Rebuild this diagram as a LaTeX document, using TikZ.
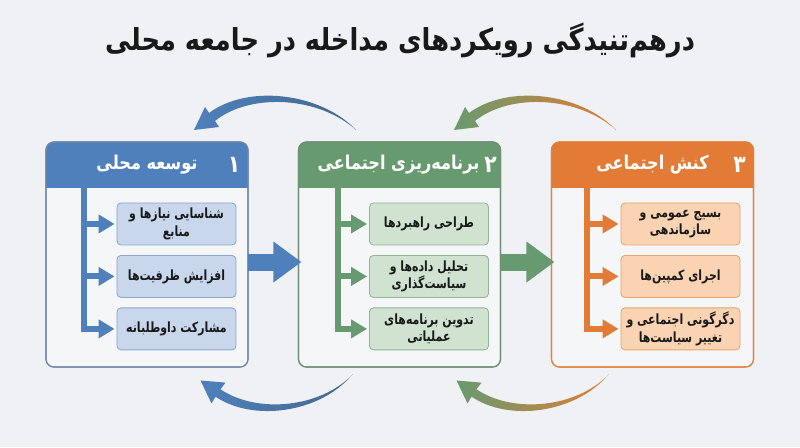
\documentclass[tikz,border=0pt]{standalone}
\usepackage{fontspec}
\usepackage{tikz}
\usetikzlibrary{
  arrows.meta,positioning,calc
}
\newfontfamily\fa[Script=Arabic,FakeStretch=0.85]{DejaVu Sans}
\newfontfamily\fan[Script=Arabic,FakeStretch=0.78]{DejaVu Sans}
\TeXXeTstate=1
\newcommand{\rtl}[1]{\beginR#1\endR}

\definecolor{bgc}{HTML}{EFF1F4}
\definecolor{panelF}{HTML}{F5F6F8}
\definecolor{blueM}{HTML}{4F80BC}
\definecolor{blueB}{HTML}{6F88AA}
\definecolor{blueL}{HTML}{C8D7EC}
\definecolor{blueE}{HTML}{8DA8CC}
\definecolor{blueD}{HTML}{43698C}
\definecolor{greenM}{HTML}{679B6F}
\definecolor{greenB}{HTML}{6E8E76}
\definecolor{greenL}{HTML}{CFE3D0}
\definecolor{greenE}{HTML}{93B398}
\definecolor{orangeM}{HTML}{E27B35}
\definecolor{orangeB}{HTML}{E0823F}
\definecolor{orangeL}{HTML}{F9D3B2}
\definecolor{orangeE}{HTML}{E6A571}

\tikzset{
  panel/.style={draw=#1B, fill=panelF, line width=0.8pt, rounded corners=0.2cm, minimum width=5.05cm, minimum height=5.625cm, inner sep=0pt, outer sep=0pt},
  htext/.style={text=white, font=\fa\bfseries\fontsize{13.5}{15}\selectfont},
  hnum/.style={text=white, font=\fa\bfseries\fontsize{17}{18}\selectfont},
  sub/.style={draw=#1E, fill=#1L, line width=0.6pt, rounded corners=0.1cm, minimum width=2.975cm, minimum height=1.05cm, align=center, inner sep=1pt, font=\fan\bfseries\fontsize{10}{12.5}\selectfont, text=black!90},
  branch/.style={#1M, line width=0.15cm, -{Triangle[length=0.4cm,width=0.45cm]}, shorten >=0.05cm},
  bigarrow/.style={#1M, line width=0.425cm, -{Triangle[length=0.7cm,width=0.975cm]}},
  node distance=0.24cm
}

\begin{document}
\begin{tikzpicture}[x=0.025cm,y=-0.025cm]
    \fill[bgc] (0,0) rectangle (800,447);
    \useasboundingbox (0,0) rectangle (800,447);

    \node[font=\fa\bfseries\fontsize{21.5}{24}\selectfont, text=black!90] (title) at (400,40) {\rtl{درهم‌تنیدگی رویکردهای مداخله در جامعه محلی}};

    % panels
    \node[panel=blue] (p1) at (147,254.5) {};
    \node[panel=green] (p2) at (399.5,254.5) {};
    \node[panel=orange] (p3) at (652.5,254.5) {};

    \fill[blueM] ($(p1.north west)+(0,46)$) [rounded corners=0.2cm] -- (p1.north west) -- (p1.north east) [sharp corners] -- ($(p1.north east)+(0,46)$) -- cycle;
    \fill[greenM] ($(p2.north west)+(0,46)$) [rounded corners=0.2cm] -- (p2.north west) -- (p2.north east) [sharp corners] -- ($(p2.north east)+(0,46)$) -- cycle;
    \fill[orangeM] ($(p3.north west)+(0,46)$) [rounded corners=0.2cm] -- (p3.north west) -- (p3.north east) [sharp corners] -- ($(p3.north east)+(0,46)$) -- cycle;
    \draw[blueB, line width=0.8pt, rounded corners=0.2cm] (p1.north west) rectangle (p1.south east);
    \draw[greenB, line width=0.8pt, rounded corners=0.2cm] (p2.north west) rectangle (p2.south east);
    \draw[orangeB, line width=0.8pt, rounded corners=0.2cm] (p3.north west) rectangle (p3.south east);

    \node[htext] (h1) at ($(p1.north)+(0,23)$) {\rtl{توسعه محلی}};
    \node[hnum] (n1) at ($(p1.north east)+(-14,23)$) {۱};
    \node[htext] (h2) at ($(p2.north)+(-1,23)$) {\rtl{برنامه‌ریزی اجتماعی}};
    \node[hnum] (n2) at ($(p2.north east)+(-10,23)$) {۲};
    \node[htext] (h3) at ($(p3.north)+(0,23)$) {\rtl{کنش اجتماعی}};
    \node[hnum] (n3) at ($(p3.north east)+(-14,23)$) {۳};

    % sub steps
    \node[sub=blue] (b11) at ($(p1.north west)+(130.5,82)$) {\rtl{شناسایی نیازها و}\\\rtl{منابع}};
    \node[sub=blue, below=of b11] (b12) {\rtl{افزایش ظرفیت‌ها}};
    \node[sub=blue, below=of b12] (b13) {\rtl{مشارکت داوطلبانه}};

    \node[sub=green] (b21) at ($(p2.north west)+(130.5,82)$) {\rtl{طراحی راهبردها}};
    \node[sub=green, below=of b21] (b22) {\rtl{تحلیل داده‌ها و}\\\rtl{سیاست‌گذاری}};
    \node[sub=green, below=of b22] (b23) {\rtl{تدوین برنامه‌های}\\\rtl{عملیاتی}};

    \node[sub=orange] (b31) at ($(p3.north west)+(129,82)$) {\rtl{بسیج عمومی و}\\\rtl{سازماندهی}};
    \node[sub=orange, below=of b31] (b32) {\rtl{اجرای کمپین‌ها}};
    \node[sub=orange, below=of b32] (b33) {\rtl{دگرگونی اجتماعی و}\\\rtl{تغییر سیاست‌ها}};

    \coordinate (t1) at ($(p1.north west)+(38,46)$);
    \coordinate (t2) at ($(p2.north west)+(40,46)$);
    \coordinate (t3) at ($(p3.north west)+(36,46)$);
    \draw[branch=blue] (t1) |- (b13.west);
    \draw[branch=blue] (t1 |- b11.west) -- (b11.west);
    \draw[branch=blue] (t1 |- b12.west) -- (b12.west);
    \draw[branch=green] (t2) |- (b23.west);
    \draw[branch=green] (t2 |- b21.west) -- (b21.west);
    \draw[branch=green] (t2 |- b22.west) -- (b22.west);
    \draw[branch=orange] (t3) |- (b33.west);
    \draw[branch=orange] (t3 |- b31.west) -- (b31.west);
    \draw[branch=orange] (t3 |- b32.west) -- (b32.west);

    \draw[bigarrow=blue] ($(p1.east)+(0,7.5)$) -- ($(p2.west)+(3,7.5)$);
    \draw[bigarrow=green] ($(p2.east)+(0,7.5)$) -- ($(p3.west)+(3,7.5)$);

    % feedback arrows, top and bottom
    \shade[left color=blueM, right color=blueD] (354,128) .. controls (319,93) and (248,84) .. (209,113) -- (205,107) -- (194,130) -- (219,127) -- (215,121) .. controls (251,92) and (320,97) .. (356,130) -- cycle;
    \shade[left color=greenM, right color=orangeM, shift={(260,0)}] (354,128) .. controls (319,93) and (248,84) .. (209,113) -- (205,107) -- (194,130) -- (219,127) -- (215,121) .. controls (251,92) and (320,97) .. (356,130) -- cycle;
    \shade[left color=blueM, right color=blueD] (351,376) .. controls (319,413) and (253,422) .. (215.5,396.7) -- (211.5,403.4) -- (200.5,380.5) -- (225.5,382.6) -- (220.5,389.3) .. controls (257,414) and (321,408) .. (353,374) -- cycle;
    \shade[left color=greenM, right color=orangeM, shift={(256,0)}] (351,376) .. controls (319,413) and (253,422) .. (215.5,396.7) -- (211.5,403.4) -- (200.5,380.5) -- (225.5,382.6) -- (220.5,389.3) .. controls (257,414) and (321,408) .. (353,374) -- cycle;
\end{tikzpicture}
\end{document}
